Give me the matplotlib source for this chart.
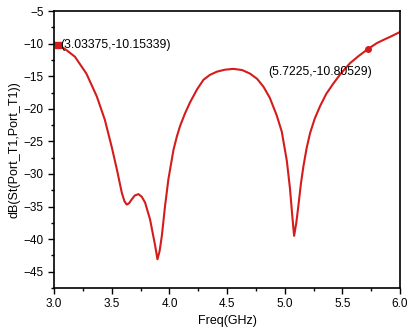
import matplotlib
matplotlib.use("Agg")
import matplotlib.pyplot as plt
from matplotlib.ticker import MultipleLocator

plt.rcParams['font.family'] = ['Liberation Sans', 'DejaVu Sans']

# values
freq = [3.00, 3.03375, 3.10, 3.18, 3.28, 3.37, 3.44, 3.50, 3.544, 3.587, 3.61, 3.63,
        3.65, 3.673, 3.70, 3.731, 3.76, 3.789, 3.832, 3.876, 3.896, 3.915, 3.934, 3.962,
        3.991, 4.035, 4.065, 4.093, 4.135, 4.179, 4.24, 4.295, 4.35, 4.411, 4.48, 4.555,
        4.63, 4.699, 4.76, 4.815, 4.87, 4.93, 4.974, 5.018, 5.045, 5.065, 5.081, 5.10,
        5.118, 5.14, 5.162, 5.19, 5.22, 5.26, 5.306, 5.36, 5.422, 5.49, 5.566, 5.64,
        5.7225, 5.80, 5.855, 5.92, 6.00]
s11 = [-9.8, -10.15339, -10.9, -12.0, -14.6, -18.1, -21.7, -25.9, -29.3, -32.9, -34.2, -34.7,
       -34.5, -33.9, -33.3, -33.1, -33.5, -34.4, -37.0, -41.0, -43.1, -41.8, -39.5, -34.9,
       -30.8, -26.3, -24.2, -22.6, -20.7, -19.0, -17.0, -15.55, -14.8, -14.3, -14.0, -13.87,
       -14.05, -14.6, -15.4, -16.6, -18.3, -21.0, -23.5, -28.0, -32.2, -36.4, -39.5, -37.5,
       -34.9, -31.5, -28.8, -26.0, -23.7, -21.5, -19.6, -17.7, -16.1, -14.5, -13.0, -11.9,
       -10.80529, -9.9, -9.43, -8.9, -8.2]

mark_x = [3.03375, 5.7225]
mark_y = [-10.15339, -10.80529]
mark_txt = ['(3.03375,-10.15339)', '(5.7225,-10.80529)']
red = '#d41c1c'

fig = plt.figure(figsize=(4.07, 3.36), dpi=100)
ax = fig.add_axes([0.133, 0.143, 0.850, 0.824])

ax.plot(freq, s11, color=red, lw=1.5, solid_joinstyle='round')
ax.plot(mark_x[0], mark_y[0], 's', color=red, ms=4)
ax.plot(mark_x[1], mark_y[1], 'o', color=red, ms=4)
ax.text(3.05, -10.15, mark_txt[0], fontsize=8.8, ha='left', va='center')
ax.text(4.856, -14.3, mark_txt[1], fontsize=8.8, ha='left', va='center')

ax.set_xlim(3.0, 6.0)
ax.set_ylim(-47.5, -5)
ax.xaxis.set_major_locator(MultipleLocator(0.5))
ax.xaxis.set_minor_locator(MultipleLocator(0.25))
ax.yaxis.set_major_locator(MultipleLocator(5))
ax.yaxis.set_minor_locator(MultipleLocator(2.5))
ax.tick_params(which='major', direction='out', length=4, width=1, labelsize=8.5)
ax.tick_params(which='minor', direction='out', length=2, width=1)
for s in ax.spines.values():
    s.set_linewidth(1.2)

ax.set_xlabel('Freq(GHz)', fontsize=9, labelpad=3)
ax.set_ylabel('dB(St(Port_T1,Port_T1))', fontsize=9, labelpad=2)

fig.savefig('out.png', dpi=100)
